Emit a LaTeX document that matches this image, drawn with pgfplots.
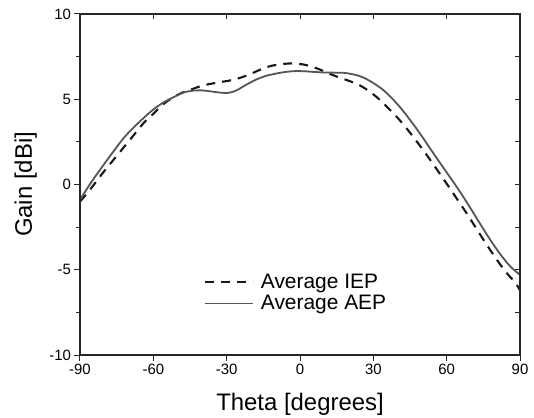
\documentclass[border=0pt]{standalone}
\usepackage{fontspec}
\setmainfont{Liberation Sans}
\usepackage{pgfplots}
\pgfplotsset{compat=1.18}
\definecolor{aepgray}{RGB}{85,85,85}
\definecolor{iepblack}{RGB}{25,25,25}
\pgfplotstableread{
t g
-90 -0.9
-87 -0.22
-84 0.42
-80 1.22
-76 2.0
-72 2.75
-68 3.35
-64 3.9
-60 4.4
-56 4.8
-52 5.1
-48 5.38
-44 5.5
-40 5.52
-36 5.45
-32 5.38
-29 5.38
-26 5.52
-22 5.85
-18 6.15
-14 6.37
-10 6.5
-6 6.6
-2 6.65
2 6.64
6 6.6
10 6.57
14 6.56
18 6.55
21 6.48
24 6.38
27 6.2
30 5.95
34 5.55
38 5.0
42 4.35
46 3.6
50 2.8
54 1.95
58 1.12
62 0.3
66 -0.55
70 -1.45
74 -2.38
78 -3.28
82 -4.1
86 -4.8
90 -5.3
}\aep
\pgfplotstableread{
t g
-90 -1.0
-87 -0.5
-84 0.05
-80 0.8
-76 1.5
-72 2.2
-68 2.9
-64 3.6
-60 4.15
-56 4.7
-52 5.1
-48 5.4
-44 5.6
-40 5.8
-36 5.92
-32 6.02
-28 6.12
-24 6.28
-20 6.5
-16 6.75
-12 6.95
-8 7.05
-4 7.1
0 7.07
4 6.95
8 6.75
12 6.5
16 6.28
20 6.08
24 5.85
28 5.5
32 5.05
36 4.5
40 3.9
44 3.22
48 2.48
52 1.7
56 0.88
60 0.05
64 -0.8
68 -1.65
72 -2.55
76 -3.45
80 -4.3
84 -5.1
88 -5.75
90 -6.2
}\iep
\begin{document}
\begin{tikzpicture}
\begin{axis}[
  scale only axis, width=440bp, height=341bp,
  xmin=-90, xmax=90, ymin=-10, ymax=10,
  axis line style={draw=black!85, line width=1.1bp},
  xtick={-90,-60,-30,0,30,60,90},
  xticklabels={-90,-60,-30,0,30,60,90},
  ytick={-10,-5,0,5,10},
  yticklabels={-10,-5,0,5,10},
  minor y tick num=1,
  xtick pos=left, ytick pos=left,
  tick align=outside,
  major tick length=5.5bp, minor tick length=3.5bp,
  tick style={line width=1bp, black!85},
  tick label style={font=\fontsize{15}{17}\selectfont},
  xlabel={Theta [degrees]}, ylabel={Gain [dBi]},
  label style={font=\fontsize{24}{28}\selectfont},
  xlabel style={at={(rel axis cs:0.5,0)}, anchor=base, yshift=-55bp},
  ylabel style={at={(rel axis cs:0,0.5)}, anchor=base, rotate=0, yshift=48bp},
  legend style={at={(rel axis cs:0.281,0.245)}, anchor=north west, draw=none, fill=none,
    font=\fontsize{21}{23}\selectfont, inner sep=0pt, row sep=2bp,
    nodes={inner sep=2bp},
    /tikz/column 1/.style={column sep=5bp}},
  legend cell align=left,
  legend image code/.code={\draw[#1] (0bp,0bp) -- (48bp,0bp);},
]
\addplot[iepblack, line width=2.1bp, dash pattern=on 9bp off 7bp, smooth] table[x=t,y=g] {\iep};
\addlegendentry{Average IEP}
\addplot[aepgray, line width=1.8bp, smooth] table[x=t,y=g] {\aep};
\addlegendentry{Average AEP}
\addplot[aepgray, line width=1.8bp, forget plot] coordinates {(-90,-0.9) (-90,-10)};
\addplot[aepgray, line width=1.8bp, forget plot] coordinates {(90,-5.3) (90,-10)};
\path (rel axis cs:0,0) coordinate (sw) (rel axis cs:1,1) coordinate (ne);
\end{axis}
\begin{axis}[
  scale only axis, width=440bp, height=341bp,
  xmin=-90, xmax=90, ymin=-10, ymax=10,
  axis line style={draw=black!85, line width=1.1bp},
  xtick={-90,-60,-30,0,30,60,90}, xticklabels={},
  ytick={-10,-7.5,...,10}, yticklabels={},
  xtick pos=right, ytick pos=right,
  tick align=inside, major tick length=5bp,
  tick style={line width=1bp, black!85},
]
\end{axis}
\pgfresetboundingbox
\path[use as bounding box] ([xshift=-80bp,yshift=-63bp]sw) rectangle ([xshift=14bp,yshift=14bp]ne);
\end{tikzpicture}
\end{document}
